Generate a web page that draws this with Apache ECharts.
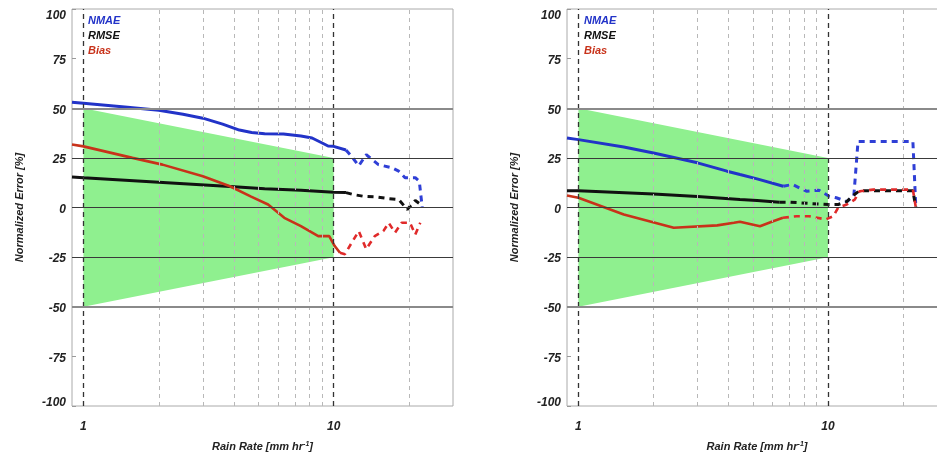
<!DOCTYPE html>
<html>
<head>
<meta charset="utf-8">
<script src="https://cdn.jsdelivr.net/npm/echarts@6/dist/echarts.min.js"></script>
<style>html,body{margin:0;padding:0;background:#fff}#c{width:937px;height:457px}</style>
</head>
<body>
<div id="c"></div>
<script>
// ---- data ----
const yTicks = [-100, -75, -50, -25, 0, 25, 50, 75, 100];
const xLabelTicks = [1, 10];
const xMinorTicks = [2, 3, 4, 5, 6, 7, 8, 9, 20];
const hLinesStrong = [50, -50];
const hLinesThin = [25, 0, -25];
const bandX = [1, 10];
const bandUpper = [50, 25];
const bandLower = [-50, -25];

// Left panel
const L_nmae_sx = [0.9, 1, 1.5, 2, 2.5, 3, 3.6, 4.2, 4.7, 5.3, 6.3, 7.4, 8.2, 9, 9.5, 10, 11.2];
const L_nmae_sy = [53, 52.5, 50.5, 49, 47, 45, 42, 39, 37.8, 37.2, 37, 36, 35, 32.5, 31, 30.8, 29];
const L_nmae_dx = [11.2, 11.8, 12.6, 13.5, 15.1, 17.1, 18.2, 19.3, 21.2, 22, 22.6];
const L_nmae_dy = [29, 25.8, 21, 26.6, 21.6, 20, 18.3, 15, 15, 13.2, 0];
const L_rmse_sx = [0.9, 1, 2, 4, 5.3, 7.4, 10, 11.2];
const L_rmse_sy = [15.4, 15, 12.7, 10.4, 9.4, 8.7, 7.7, 7.5];
const L_rmse_dx = [11.2, 12, 13.1, 14.7, 16.6, 18.2, 19.7, 21.2, 22.6];
const L_rmse_dy = [7.5, 6.5, 5.7, 5.4, 4.5, 4, -1, 3.5, 1];
const L_bias_sx = [0.9, 1, 1.57, 2.07, 3, 3.85, 4.68, 5.47, 6.35, 7.4, 8.68, 9.6, 10.1, 10.6];
const L_bias_sy = [31.7, 30.8, 25, 21.6, 15.7, 10.7, 5.5, 1.5, -5.2, -9.4, -14.4, -14.4, -19.4, -22.8];
const L_bias_dx = [10.6, 11.1, 11.8, 12.6, 13.5, 14.6, 15.8, 16.6, 17.6, 18.7, 20.2, 21.2, 22.2];
const L_bias_dy = [-22.8, -23.5, -17.8, -11.9, -21, -14.4, -11.9, -7.7, -12.7, -7.7, -7.7, -13.6, -7.7];

// Right panel
const R_nmae_sx = [0.9, 1, 1.52, 2, 3, 3.94, 4.44, 5.2, 6.62];
const R_nmae_sy = [35, 34.2, 30.5, 27.5, 22.5, 18.3, 16.6, 14.4, 10.7];
const R_nmae_dx = [6.62, 7.2, 8.2, 9.2, 10.1, 10.8, 11.9, 12.7, 13.2, 21.9, 22.5];
const R_nmae_dy = [10.7, 11.6, 8.2, 8.7, 5.7, 4.9, 3, 6, 33.3, 33.3, 0];
const R_rmse_sx = [0.9, 1, 2, 3, 4.44, 5.2, 6.4];
const R_rmse_sy = [8.5, 8.5, 6.8, 5.5, 4, 3.5, 2.7];
const R_rmse_dx = [6.4, 7, 8.5, 10.1, 11, 11.9, 12.6, 13.4, 21.9, 22.5];
const R_rmse_dy = [2.7, 2.7, 2, 1.5, 1.5, 3, 6, 8.5, 8.5, 0];
const R_bias_sx = [0.9, 1, 1.52, 2.41, 3.6, 4.2, 4.44, 5.34, 6.03, 6.6];
const R_bias_sy = [6, 4.9, -3.5, -10.2, -9, -7.7, -7.2, -9.4, -6.9, -5.2];
const R_bias_dx = [6.6, 7.5, 8.4, 9.8, 10.5, 11, 11.9, 12.8, 13.4, 15.2, 21.9, 22.5];
const R_bias_dy = [-5.2, -4.4, -4.4, -6, -4.4, 0, 1.5, 4, 8.2, 9, 9, 0];

const metricNames = ['NMAE', 'RMSE', 'Bias'];
const xAxisName = 'Rain Rate [mm hr{s|-1}]';
const yAxisName = 'Normalized Error [%]';

// ---- styling ----
const FONT = 'Liberation Sans';
const C = {
  NMAE: '#2233c8', NMAEd: '#2f3fd6',
  RMSE: '#111111', RMSEd: '#111111',
  Bias: '#c8321a', Biasd: '#e02a2a'
};
const zip = (xs, ys) => xs.map((x, i) => [x, ys[i]]);
const yLabStyle = { fontFamily: FONT, fontWeight: 'bold', fontStyle: 'italic', fontSize: 12, color: '#222' };

function axesFor(i) {
  return {
    x: {
      type: 'log', logBase: 10, gridIndex: i, min: 0.9, max: 30,
      name: xAxisName, nameLocation: 'middle', nameGap: 35,
      nameTextStyle: { fontFamily: FONT, fontWeight: 'bold', fontStyle: 'italic', fontSize: 11, color: '#222',
        rich: { s: { fontFamily: FONT, fontWeight: 'bold', fontStyle: 'italic', fontSize: 7, color: '#222', verticalAlign: 'top', padding: [0, 0, 5, 0] } } },
      axisLine: { show: false }, axisTick: { show: false }, splitLine: { show: false }, minorSplitLine: { show: false },
      axisLabel: {
        margin: 15, fontFamily: FONT, fontWeight: 'bold', fontStyle: 'italic', fontSize: 12, color: '#222',
        showMinLabel: true, showMaxLabel: true,
        formatter: v => { const t = xLabelTicks.find(k => Math.abs(k - v) < 1e-6 * k); return t ? String(t) : ''; }
      }
    },
    y: {
      type: 'value', gridIndex: i, min: -100, max: 100, interval: 25,
      name: yAxisName, nameLocation: 'middle', nameGap: 47,
      nameTextStyle: { fontFamily: FONT, fontWeight: 'bold', fontStyle: 'italic', fontSize: 11, color: '#222' },
      axisLine: { show: false },
      axisTick: { show: true, inside: true, length: 4, lineStyle: { color: '#999' } },
      splitLine: { show: false },
      axisLabel: {
        margin: 6, ...yLabStyle,
        formatter: v => v === 100 ? '{top|' + v + '}' : (v === -100 ? '{bot|' + v + '}' : '{mid|' + v + '}'),
        rich: {
          top: { ...yLabStyle, padding: [14, 0, 0, 0] },
          bot: { ...yLabStyle, padding: [0, 0, 6, 0] },
          mid: { ...yLabStyle, padding: [4, 0, 0, 0] }
        }
      }
    }
  };
}

function gridLinesSeries(i) {
  const data = [];
  xMinorTicks.forEach(v => data.push({ xAxis: v, lineStyle: { color: '#b8b8b8', type: [4, 4], width: 1 } }));
  xLabelTicks.forEach(v => data.push({ xAxis: v, lineStyle: { color: '#333', type: [5, 4], width: 1.3 } }));
  hLinesStrong.forEach(v => data.push({ yAxis: v, lineStyle: { color: '#8a8a8a', type: 'solid', width: 2 } }));
  hLinesThin.forEach(v => data.push({ yAxis: v, lineStyle: { color: '#3a3a3a', type: 'solid', width: 1.2 } }));
  return {
    type: 'line', xAxisIndex: i, yAxisIndex: i, z: 2, silent: true,
    data: zip(bandX, bandUpper), showSymbol: false, lineStyle: { opacity: 0 }, tooltip: { show: false },
    markLine: { silent: true, symbol: ['none', 'none'], label: { show: false }, animation: false, data }
  };
}

function bandSeries(i) {
  return {
    type: 'custom', xAxisIndex: i, yAxisIndex: i, z: 1, silent: true,
    data: bandX.map((x, k) => [x, bandUpper[k], bandLower[k]]),
    renderItem: (params, api) => {
      if (params.dataIndex !== 0) return null;
      const pts = [];
      bandX.forEach((x, k) => pts.push(api.coord([x, bandUpper[k]])));
      for (let k = bandX.length - 1; k >= 0; k--) pts.push(api.coord([bandX[k], bandLower[k]]));
      return { type: 'polygon', shape: { points: pts }, style: { fill: '#8ff08f' } };
    }
  };
}

function lineSeries(i, name, data, dashed, width) {
  return {
    type: 'line', name, xAxisIndex: i, yAxisIndex: i, z: 3,
    data, showSymbol: false, symbol: 'none', smooth: false,
    lineStyle: { color: dashed ? C[name + 'd'] : C[name], width, type: dashed ? [6, 5] : 'solid' },
    itemStyle: { color: C[name] }
  };
}

const aL = axesFor(0), aR = axesFor(1);
const panels = [
  [L_nmae_sx, L_nmae_sy, L_nmae_dx, L_nmae_dy, L_rmse_sx, L_rmse_sy, L_rmse_dx, L_rmse_dy, L_bias_sx, L_bias_sy, L_bias_dx, L_bias_dy],
  [R_nmae_sx, R_nmae_sy, R_nmae_dx, R_nmae_dy, R_rmse_sx, R_rmse_sy, R_rmse_dx, R_rmse_dy, R_bias_sx, R_bias_sy, R_bias_dx, R_bias_dy]
];
const series = [];
panels.forEach((p, i) => {
  series.push(bandSeries(i));
  series.push(gridLinesSeries(i));
  const widths = { NMAE: 3, RMSE: 3, Bias: 2.6 };
  metricNames.forEach((m, k) => {
    series.push(lineSeries(i, m, zip(p[4 * k], p[4 * k + 1]), false, widths[m]));
    series.push(lineSeries(i, m, zip(p[4 * k + 2], p[4 * k + 3]), true, widths[m]));
  });
});

function legendAt(left) {
  return {
    left, top: 15, orient: 'vertical', icon: 'none', itemWidth: 0, itemHeight: 11, itemGap: 4, padding: 0,
    selectedMode: false,
    textStyle: { fontFamily: FONT, fontWeight: 'bold', fontStyle: 'italic', fontSize: 11 },
    data: metricNames.map(m => ({ name: m, textStyle: { color: C[m] } }))
  };
}

const option = {
  animation: false,
  backgroundColor: '#fff',
  grid: [
    { left: 72, top: 9, width: 381, height: 397, show: true, borderColor: '#aaa', borderWidth: 1, backgroundColor: '#fff', outerBoundsMode: 'none', containLabel: false },
    { left: 567, top: 9, width: 380, height: 397, show: true, borderColor: '#aaa', borderWidth: 1, backgroundColor: '#fff', outerBoundsMode: 'none', containLabel: false }
  ],
  xAxis: [aL.x, aR.x],
  yAxis: [aL.y, aR.y],
  legend: [legendAt(83), legendAt(579)],
  series
};
const chart = echarts.init(document.getElementById('c'), null, { renderer: 'canvas' });
chart.setOption(option);
</script>
</body>
</html>
